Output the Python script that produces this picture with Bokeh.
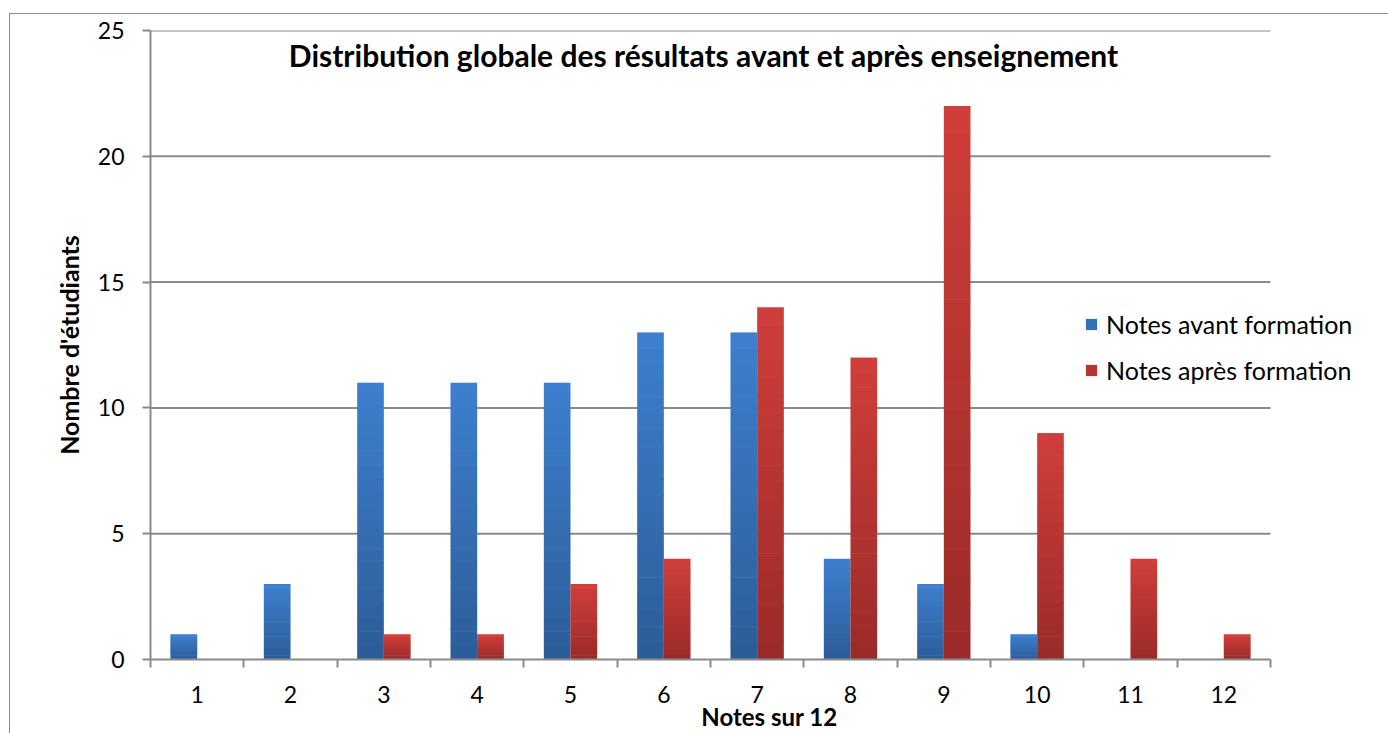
from bokeh.plotting import figure
from bokeh.models import ColumnDataSource, Range1d, FixedTicker, Label, Legend, LegendItem
from bokeh.embed import file_html
from bokeh.resources import INLINE

# ---- data ----
notes = [1, 2, 3, 4, 5, 6, 7, 8, 9, 10, 11, 12]
tick_labels = ["1", "2", "3", "4", "5", "6", "7", "8", "9", "10", "11", "12"]
avant = [1, 3, 11, 11, 11, 13, 13, 4, 3, 1, 0, 0]
apres = [0, 0, 1, 1, 3, 4, 14, 12, 22, 9, 4, 1]
y_ticks = [0, 5, 10, 15, 20, 25]
series_names = ["Notes avant formation", "Notes après formation"]
title_text = "Distribution globale des résultats avant et après enseignement"
x_title = "Notes sur 12"
y_title = "Nombre d'étudiants"

FONT = "Lato"
GRID = "#8a8a8a"
BLUE_TOP, BLUE_BOT = (0x3D, 0x80, 0xCF), (0x2C, 0x5C, 0x98)
RED_TOP, RED_BOT = (0xD0, 0x3E, 0x3A), (0x9A, 0x2B, 0x29)
BAR_W = 0.2857
N_SLICES = 20

PLOT_W = 1120          # width of the 12-category plot area in px
FRAME_W = 1238         # frame extended to the right so the legend can overhang
FRAME_H = 629
Y_MAX = 25
X0, X1 = 0.5, 12.5
X_END = X0 + (X1 - X0) * FRAME_W / PLOT_W
EPS = 0.6 * Y_MAX / FRAME_H   # slight overlap between gradient slices (~0.6 px)


def grad_source(xs, vals, top_c, bot_c, n=N_SLICES):
    x, bottom, top, color = [], [], [], []
    for xi, v in zip(xs, vals):
        if v <= 0:
            continue
        for k in range(n):
            t = (k + 0.5) / n
            c = tuple(int(round(b + (tc - b) * t)) for b, tc in zip(bot_c, top_c))
            x.append(xi)
            bottom.append(v * k / n)
            top.append(v * (k + 1) / n + (EPS if k < n - 1 else 0))
            color.append("#%02x%02x%02x" % c)
    return ColumnDataSource(dict(x=x, bottom=bottom, top=top, color=color))


p = figure(frame_width=FRAME_W, frame_height=FRAME_H,
           x_range=Range1d(X0, X_END), y_range=Range1d(0, Y_MAX),
           output_backend="svg", toolbar_location=None,
           min_border_left=140, min_border_right=0,
           min_border_top=16, min_border_bottom=60)
p.styles = {"margin-left": "9px", "margin-top": "13px",
            "border-left": "1px solid #8c8c8c", "border-top": "1px solid #8c8c8c"}
p.outline_line_color = None
p.background_fill_color = "white"
p.border_fill_color = "white"

# horizontal gridlines limited to the plot area
gl = y_ticks[1:]
p.segment(x0=[X0] * len(gl), y0=gl, x1=[X1] * len(gl), y1=gl,
          line_color=GRID, line_width=2)

src_b = grad_source([n - BAR_W / 2 for n in notes], avant, BLUE_TOP, BLUE_BOT)
src_r = grad_source([n + BAR_W / 2 for n in notes], apres, RED_TOP, RED_BOT)
rb = p.vbar(x="x", bottom="bottom", top="top", width=BAR_W, source=src_b,
            fill_color="color", line_color=None)
rr = p.vbar(x="x", bottom="bottom", top="top", width=BAR_W, source=src_r,
            fill_color="color", line_color=None)

p.xgrid.visible = False
p.ygrid.visible = False

# x axis
xa = p.xaxis[0]
xa.bounds = (X0, X1)
xa.ticker = FixedTicker(ticks=notes, minor_ticks=[n - 0.5 for n in notes] + [X1])
xa.major_label_overrides = {n: lab for n, lab in zip(notes, tick_labels)}
xa.major_tick_out = 0
xa.major_tick_in = 0
xa.minor_tick_out = 8
xa.minor_tick_in = 0
xa.minor_tick_line_color = GRID
xa.minor_tick_line_width = 2
xa.axis_line_color = GRID
xa.axis_line_width = 2
xa.major_label_text_font = FONT
xa.major_label_text_font_size = "23px"
xa.major_label_text_color = "black"
xa.major_label_standoff = 18
xa.axis_label = x_title
xa.axis_label_text_font = FONT
xa.axis_label_text_font_size = "24px"
xa.axis_label_text_font_style = "bold"
xa.axis_label_text_color = "black"
xa.axis_label_standoff = -4

# y axis
ya = p.yaxis[0]
ya.ticker = FixedTicker(ticks=y_ticks)
ya.major_tick_out = 8
ya.major_tick_in = 0
ya.minor_tick_out = 0
ya.minor_tick_in = 0
ya.major_tick_line_color = GRID
ya.major_tick_line_width = 2
ya.axis_line_color = GRID
ya.axis_line_width = 2
ya.major_label_text_font = FONT
ya.major_label_text_font_size = "23px"
ya.major_label_text_color = "black"
ya.major_label_standoff = 18
ya.axis_label = y_title
ya.axis_label_text_font = FONT
ya.axis_label_text_font_size = "25px"
ya.axis_label_text_font_style = "bold"
ya.axis_label_text_color = "black"
ya.axis_label_standoff = 11

# title inside plot area
p.add_layout(Label(x=6.5, y=Y_MAX, x_offset=-7, y_offset=-24, text=title_text,
                   text_font=FONT, text_font_size="30px", text_font_style="bold",
                   text_color="black", text_align="center", text_baseline="middle"))

# legend
legend = Legend(items=[LegendItem(label=series_names[0], renderers=[rb], index=N_SLICES // 2),
                       LegendItem(label=series_names[1], renderers=[rr], index=N_SLICES // 2)],
                location=(934, 274), orientation="vertical",
                background_fill_alpha=0, border_line_alpha=0, padding=0, margin=0,
                glyph_width=14, glyph_height=14, label_standoff=8, spacing=16,
                label_text_font=FONT, label_text_font_size="25px", label_text_color="black")
p.add_layout(legend)

open("out.html", "w").write(file_html(p, INLINE))
